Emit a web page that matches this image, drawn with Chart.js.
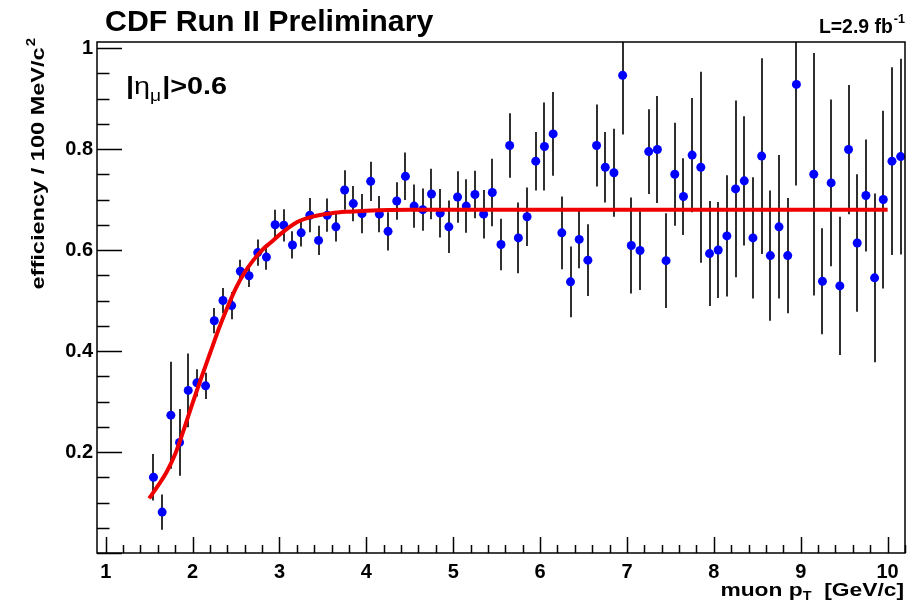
<!DOCTYPE html>
<html><head><meta charset="utf-8">
<script src="https://cdn.jsdelivr.net/npm/chart.js@4.4.0/dist/chart.umd.min.js"></script>
<style>html,body{margin:0;padding:0;background:#fff;}#wrap{width:916px;height:603px;position:relative;}canvas{display:block;}</style>
</head><body><div id="wrap"><canvas id="c" width="916" height="603" style="width:916px;height:603px"></canvas></div>
<script>
// ---- data ----
const ptX = [1.55,1.65,1.75,1.85,1.95,2.05,2.15,2.25,2.35,2.45,2.55,2.65,2.75,2.85,2.95,3.05,3.15,3.25,3.35,3.45,3.55,3.65,3.75,3.85,3.95,4.05,4.15,4.25,4.35,4.45,4.55,4.65,4.75,4.85,4.95,5.05,5.15,5.25,5.35,5.45,5.55,5.65,5.75,5.85,5.95,6.05,6.15,6.25,6.35,6.45,6.55,6.65,6.75,6.85,6.95,7.05,7.15,7.25,7.35,7.45,7.55,7.65,7.75,7.85,7.95,8.05,8.15,8.25,8.35,8.45,8.55,8.65,8.75,8.85,8.95,9.15,9.25,9.35,9.45,9.55,9.65,9.75,9.85,9.95,10.05,10.15];
const effY = [0.150,0.081,0.273,0.219,0.322,0.337,0.331,0.460,0.500,0.490,0.558,0.549,0.595,0.586,0.650,0.649,0.610,0.634,0.669,0.619,0.669,0.646,0.719,0.692,0.672,0.736,0.671,0.637,0.697,0.746,0.687,0.680,0.711,0.673,0.646,0.705,0.687,0.710,0.671,0.714,0.611,0.807,0.624,0.666,0.776,0.805,0.830,0.634,0.537,0.621,0.580,0.807,0.764,0.753,0.946,0.609,0.599,0.795,0.799,0.579,0.750,0.706,0.788,0.764,0.593,0.600,0.628,0.721,0.737,0.624,0.786,0.589,0.646,0.589,0.928,0.750,0.538,0.733,0.529,0.799,0.614,0.708,0.545,0.700,0.776,0.785];
const effErr = [0.046,0.035,0.106,0.066,0.073,0.027,0.026,0.025,0.025,0.027,0.023,0.022,0.026,0.025,0.030,0.032,0.027,0.027,0.034,0.029,0.033,0.029,0.039,0.035,0.039,0.039,0.036,0.038,0.037,0.047,0.043,0.042,0.050,0.048,0.052,0.051,0.053,0.047,0.048,0.067,0.051,0.064,0.070,0.058,0.058,0.087,0.083,0.072,0.070,0.057,0.071,0.081,0.070,0.087,0.117,0.095,0.078,0.084,0.106,0.094,0.102,0.076,0.113,0.189,0.104,0.095,0.120,0.175,0.128,0.120,0.194,0.129,0.142,0.114,0.200,0.240,0.105,0.165,0.137,0.128,0.136,0.111,0.167,0.176,0.186,0.194];
const fitX = [1.5,1.6,1.7,1.8,1.9,2.0,2.1,2.2,2.3,2.4,2.5,2.6,2.7,2.8,2.9,3.0,3.2,3.4,3.6,3.8,4.0,4.5,5.0,6.0,7.0,8.0,9.0,10.0];
const fitY = [0.108,0.133,0.160,0.196,0.245,0.297,0.347,0.395,0.443,0.486,0.525,0.556,0.580,0.600,0.615,0.630,0.655,0.667,0.673,0.676,0.678,0.680,0.680,0.680,0.680,0.680,0.680,0.680];
const xTickValues = [1,2,3,4,5,6,7,8,9,10];
const yTickValues = [0.2,0.4,0.6,0.8,1];
const yTickLabels = ['0.2','0.4','0.6','0.8','1'];
const titleText = 'CDF Run II Preliminary';
const lumiText = 'L=2.9 fb';
const lumiSup = '-1';
const yTitleText = 'efficiency / 100 MeV/c';
const yTitleSup = '2';
const xTitleMain = 'muon p';
const xTitleSub = 'T';
const xTitleEnd = '  [GeV/c]';

const FONT = '"Liberation Sans", Arial, Helvetica, sans-serif';

// draw horizontally stretched text, returns advance width
function stext(ctx, txt, x, y, font, sx) {
  ctx.save();
  ctx.font = font;
  const w = ctx.measureText(txt).width * sx;
  ctx.translate(x, y);
  ctx.scale(sx, 1);
  ctx.fillText(txt, 0, 0);
  ctx.restore();
  return w;
}
function twidth(ctx, txt, font, sx) { ctx.save(); ctx.font = font; const w = ctx.measureText(txt).width * sx; ctx.restore(); return w; }

const decor = {
  id: 'decor',
  beforeDatasetsDraw(chart) {
    const {ctx, chartArea: a, scales: {x, y}} = chart;
    ctx.save();
    ctx.beginPath();
    ctx.rect(a.left, a.top, a.right - a.left, a.bottom - a.top);
    ctx.clip();
    ctx.strokeStyle = '#1a1a1a';
    ctx.lineWidth = 1.8;
    ctx.beginPath();
    for (let i = 0; i < ptX.length; i++) {
      const px = Math.round(x.getPixelForValue(ptX[i]));
      ctx.moveTo(px, y.getPixelForValue(effY[i] - effErr[i]));
      ctx.lineTo(px, y.getPixelForValue(effY[i] + effErr[i]));
    }
    ctx.stroke();
    ctx.restore();
  },
  afterDraw(chart) {
    const {ctx, chartArea: a, scales: {x, y}} = chart;
    ctx.save();
    ctx.strokeStyle = '#000';
    ctx.lineWidth = 1.5;
    ctx.strokeRect(a.left, a.top, a.right - a.left, a.bottom - a.top);
    ctx.beginPath();
    for (let k = 0; k <= 46; k++) {
      const v = 1 + k * 0.2;
      if (v > x.max + 1e-6) break;
      const px = Math.round(x.getPixelForValue(v)) + 0.5;
      const major = Math.abs(v - Math.round(v)) < 1e-6;
      ctx.moveTo(px, a.bottom);
      ctx.lineTo(px, a.bottom - (major ? 16 : 8));
    }
    for (let k = 0; k <= 20; k++) {
      const v = k * 0.05;
      const py = Math.round(y.getPixelForValue(v)) + 0.5;
      const major = k % 4 === 0;
      ctx.moveTo(a.left, py);
      ctx.lineTo(a.left + (major ? 25 : 12.5), py);
    }
    ctx.stroke();

    ctx.fillStyle = '#000';
    ctx.textBaseline = 'alphabetic';
    ctx.textAlign = 'left';
    // title
    stext(ctx, titleText, 105, 31, 'bold 29px ' + FONT, 1.045);
    // lumi
    const LF = 'bold 20px ' + FONT, LS = 'bold 13px ' + FONT;
    const lw = twidth(ctx, lumiText, LF, 0.97), sw = twidth(ctx, lumiSup, LS, 0.97);
    const lx = 905 - lw - sw - 1;
    stext(ctx, lumiText, lx, 33, LF, 0.97);
    stext(ctx, lumiSup, lx + lw + 1, 23, LS, 0.97);
    // eta label
    const ES = 1.2;
    let ex = 126;
    const eb = 94;
    ex += stext(ctx, '|', ex, eb, 'bold 24px ' + FONT, ES);
    ex += stext(ctx, '\u03b7', ex, eb, '24px ' + FONT, ES);
    ex += stext(ctx, '\u03bc', ex, eb + 7, '16px ' + FONT, ES) + 1;
    stext(ctx, '|>0.6', ex, eb, 'bold 24px ' + FONT, ES);
    // x title
    const XS = 1.2, XF = 'bold 19px ' + FONT, XSF = 'bold 12px ' + FONT;
    const w1 = twidth(ctx, xTitleMain, XF, XS), w2 = twidth(ctx, xTitleSub, XSF, XS), w3 = twidth(ctx, xTitleEnd, XF, XS);
    let tx = 904 - w1 - w2 - w3;
    const tb = 596;
    tx += stext(ctx, xTitleMain, tx, tb, XF, XS);
    tx += stext(ctx, xTitleSub, tx, tb + 4, XSF, XS);
    stext(ctx, xTitleEnd, tx, tb, XF, XS);
    // y title (rotated)
    const YS = 1.24;
    const yw = twidth(ctx, yTitleText, XF, YS), ysw = twidth(ctx, yTitleSup, XSF, YS);
    ctx.translate(44, 39 + yw + ysw);
    ctx.rotate(-Math.PI / 2);
    stext(ctx, yTitleText, 0, 0, XF, YS);
    stext(ctx, yTitleSup, yw + 1, -9, XSF, YS);
    ctx.restore();
  }
};

new Chart(document.getElementById('c'), {
  type: 'scatter',
  data: {
    datasets: [
      {
        type: 'line',
        label: 'fit',
        data: fitX.map((v, i) => ({x: v, y: fitY[i]})),
        borderColor: '#ee0000',
        borderWidth: 4,
        pointRadius: 0,
        fill: false,
        cubicInterpolationMode: 'monotone',
        order: 0
      },
      {
        label: 'efficiency',
        data: ptX.map((v, i) => ({x: v, y: effY[i]})),
        backgroundColor: '#0000ff',
        borderColor: '#0000ff',
        borderWidth: 0,
        pointRadius: 4.5,
        showLine: false,
        order: 1
      }
    ]
  },
  options: {
    responsive: false,
    maintainAspectRatio: false,
    animation: false,
    devicePixelRatio: 1,
    layout: {padding: {left: 0, right: 11, top: 42, bottom: 0}},
    plugins: {legend: {display: false}, tooltip: {enabled: false}, title: {display: false}},
    scales: {
      x: {
        type: 'linear', min: 0.9, max: 10.2,
        grid: {display: false, drawTicks: false},
        border: {display: false},
        afterBuildTicks: s => { s.ticks = xTickValues.map(v => ({value: v})); },
        afterFit: s => { s.height = 50; },
        ticks: {
          padding: 7, color: '#000',
          font: {family: FONT, size: 20, weight: 'bold'},
          callback: v => String(v),
          maxRotation: 0, autoSkip: false
        }
      },
      y: {
        type: 'linear', min: 0, max: 1.012,
        grid: {display: false, drawTicks: false},
        border: {display: false},
        afterBuildTicks: s => { s.ticks = yTickValues.map(v => ({value: v})); },
        afterFit: s => { s.width = 97; },
        ticks: {
          padding: 4, color: '#000',
          font: {family: FONT, size: 20, weight: 'bold'},
          callback: v => { const i = yTickValues.findIndex(t => Math.abs(t - v) < 1e-6); return i >= 0 ? yTickLabels[i] : ''; },
          autoSkip: false
        }
      }
    }
  },
  plugins: [decor]
});
</script>
</body></html>
